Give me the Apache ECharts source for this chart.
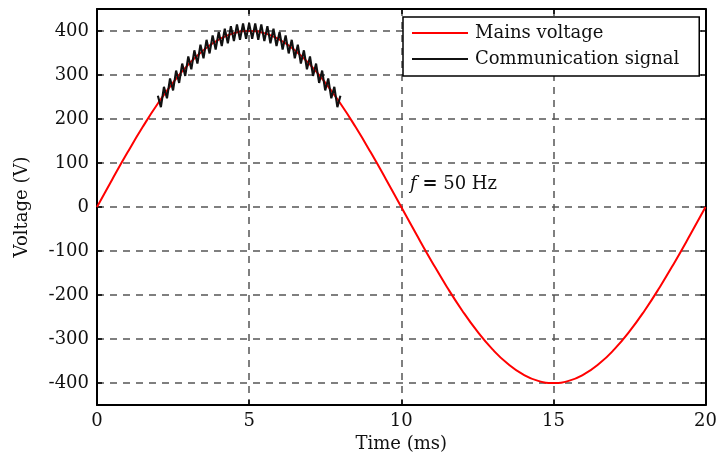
<!DOCTYPE html>
<html><head><meta charset="utf-8">
<script src="https://cdn.jsdelivr.net/npm/echarts@6/dist/echarts.min.js"></script>
<style>html,body{margin:0;padding:0;background:#fff}#c{width:720px;height:459px}</style>
</head><body><div id="c"></div>
<script>
// Mains voltage samples (every 0.5 ms)
const mainsTime = [0,0.5,1,1.5,2,2.5,3,3.5,4,4.5,5,5.5,6,6.5,7,7.5,8,8.5,9,9.5,10,10.5,11,11.5,12,12.5,13,13.5,14,14.5,15,15.5,16,16.5,17,17.5,18,18.5,19,19.5,20];
const mainsVolt = [0,62.6,123.6,181.6,235.1,282.8,323.6,356.4,380.4,395.1,400,395.1,380.4,356.4,323.6,282.8,235.1,181.6,123.6,62.6,0,-62.6,-123.6,-181.6,-235.1,-282.8,-323.6,-356.4,-380.4,-395.1,-400,-395.1,-380.4,-356.4,-323.6,-282.8,-235.1,-181.6,-123.6,-62.6,0];
// Communication signal samples (every 0.1 ms, 2 to 8 ms)
const commTime = [2.0,2.1,2.2,2.3,2.4,2.5,2.6,2.7,2.8,2.9,3.0,3.1,3.2,3.3,3.4,3.5,3.6,3.7,3.8,3.9,4.0,4.1,4.2,4.3,4.4,4.5,4.6,4.7,4.8,4.9,5.0,5.1,5.2,5.3,5.4,5.5,5.6,5.7,5.8,5.9,6.0,6.1,6.2,6.3,6.4,6.5,6.6,6.7,6.8,6.9,7.0,7.1,7.2,7.3,7.4,7.5,7.6,7.7,7.8,7.9,8.0];
const commVolt = [253,227,273,247,292,265,310,282,326,298,342,313,356,326,369,338,380,349,390,358,398,366,405,372,411,377,415,380,417,382,418,382,417,380,415,377,411,372,405,366,398,358,390,349,380,338,369,326,356,313,342,298,326,282,310,265,292,247,273,227,253];
const xTicks = [0,5,10,15,20];
const yTicks = [-400,-300,-200,-100,0,100,200,300,400];

const FONT = '"DejaVu Serif","Liberation Serif",serif';
const TXT = '#111';
const chart = echarts.init(document.getElementById('c'), null, {renderer:'canvas'});
const axisLine = {show:true, onZero:false, lineStyle:{color:'#000', width:2}};
const tick = {show:true, inside:true, length:5, lineStyle:{color:'#000', width:1.5}};
const dash = {show:true, lineStyle:{color:'#555', type:[7,6], width:1.5}};
chart.setOption({
  animation:false,
  backgroundColor:'#fff',
  grid: {left:97, right:14, top:9, bottom:54},
  legend: {
    left:403, top:17, orient:'vertical', itemGap:8, itemWidth:56, itemHeight:2,
    icon:'rect',
    padding:[7,20,8,9], borderColor:'#000', borderWidth:1.5, backgroundColor:'#fff',
    textStyle:{fontFamily:FONT, fontSize:18, color:TXT, padding:[0,0,0,2]},
    data:['Mains voltage','Communication signal']
  },
  xAxis: [{
    type:'value', min:0, max:20, interval:5, position:'bottom',
    name:'Time (ms)', nameLocation:'middle', nameGap:23,
    nameTextStyle:{fontFamily:FONT, fontSize:18, color:TXT},
    axisLine: axisLine, axisTick: tick,
    axisLabel:{fontFamily:FONT, fontSize:18, color:TXT, margin:7},
    splitLine: dash
  },{
    type:'value', min:0, max:20, interval:5, position:'top',
    axisLine: axisLine, axisTick: tick,
    axisLabel:{show:false}, splitLine:{show:false}
  }],
  yAxis: [{
    type:'value', min:-450, max:450, position:'left',
    name:'Voltage (V)', nameLocation:'middle', nameGap:66, nameRotate:90,
    nameTextStyle:{fontFamily:FONT, fontSize:18, color:TXT},
    axisLine: axisLine,
    axisTick: Object.assign({customValues:yTicks}, tick),
    axisLabel:{fontFamily:FONT, fontSize:18, color:TXT, margin:8, customValues:yTicks},
    splitLine: dash
  },{
    type:'value', min:-450, max:450, position:'right',
    axisLine: axisLine,
    axisTick: Object.assign({customValues:yTicks}, tick),
    axisLabel:{show:false}, splitLine:{show:false}
  }],
  graphic: [{
    type:'text', left:410, top:175,
    style:{
      text:'{i|f} {b|=} 50 Hz',
      rich:{
        i:{fontFamily:FONT, fontStyle:'italic', fontSize:18, fill:TXT},
        b:{fontFamily:FONT, fontWeight:'bold', fontSize:18, fill:TXT}
      },
      font:'18px "DejaVu Serif", serif', fill:TXT
    }
  }],
  series: [{
    name:'Mains voltage', type:'line', symbol:'none', smooth:true,
    lineStyle:{color:'#ff0000', width:2}, itemStyle:{color:'#ff0000'},
    data: mainsTime.map((t,i)=>[t, mainsVolt[i]]), z:2
  },{
    name:'Communication signal', type:'line', symbol:'none',
    lineStyle:{color:'#111', width:2.1}, itemStyle:{color:'#111'},
    data: commTime.map((t,i)=>[t, commVolt[i]]), z:3
  }]
});
</script></body></html>
